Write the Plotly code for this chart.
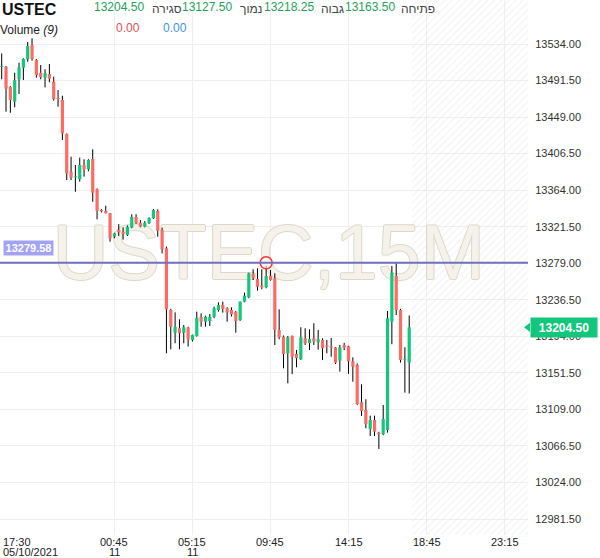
import plotly.graph_objects as go

# ---------------- data (15-minute candles, USTEC) ----------------
opens = [13507.5, 13507.6, 13484.3, 13466.9, 13493.0, 13506.4, 13516.2, 13532.8, 13515.4, 13500.6,
         13494.8, 13499.1, 13490.2, 13471.2, 13468.9, 13429.3, 13385.5, 13379.0, 13376.6, 13393.3,
         13388.3, 13400.3, 13365.0, 13341.0, 13339.8, 13337.1, 13309.9, 13317.7, 13315.7, 13311.9,
         13320.8, 13332.8, 13326.2, 13321.5, 13325.5, 13331.3, 13339.8, 13317.7, 13296.4, 13224.6,
         13198.2, 13203.4, 13198.2, 13204.1, 13189.8, 13194.4, 13216.5, 13211.0, 13211.8, 13216.8,
         13224.6, 13230.5, 13226.6, 13224.6, 13222.3, 13213.0, 13234.3, 13239.4, 13266.5, 13260.7,
         13252.9, 13251.0, 13264.5, 13261.5, 13201.4, 13193.6, 13174.3, 13194.4, 13173.5, 13167.3,
         13191.7, 13186.0, 13191.7, 13187.0, 13189.8, 13183.5, 13182.4, 13181.0, 13165.7, 13184.0,
         13182.4, 13164.8, 13160.7, 13117.3, 13108.3, 13086.2, 13096.7, 13081.9, 13080.1, 13085.0,
         13211.0, 13264.2, 13224.6, 13167.0, 13163.5]
highs = [13523.0, 13508.5, 13485.0, 13500.6, 13512.3, 13517.4, 13536.3, 13540.6, 13516.6, 13509.6,
         13504.6, 13510.7, 13496.0, 13480.5, 13473.9, 13430.0, 13402.9, 13393.3, 13401.8, 13399.9,
         13400.0, 13411.5, 13366.0, 13342.0, 13345.9, 13337.5, 13314.5, 13324.6, 13320.8, 13323.0,
         13335.9, 13336.0, 13329.3, 13328.0, 13332.5, 13342.1, 13341.7, 13320.4, 13298.3, 13226.0,
         13221.9, 13213.8, 13207.2, 13205.2, 13196.0, 13222.7, 13220.7, 13218.0, 13220.0, 13228.5,
         13233.6, 13234.3, 13227.8, 13227.8, 13223.5, 13234.5, 13244.8, 13268.0, 13272.0, 13273.1,
         13272.0, 13276.0, 13271.2, 13267.3, 13225.4, 13195.0, 13194.4, 13195.0, 13178.1, 13204.5,
         13203.4, 13202.2, 13209.2, 13201.4, 13191.7, 13189.8, 13192.0, 13181.5, 13184.0, 13186.4,
         13183.0, 13169.6, 13162.5, 13138.2, 13120.8, 13101.7, 13101.7, 13083.0, 13114.2, 13223.5,
         13275.8, 13279.0, 13226.0, 13181.3, 13218.25]
lows = [13493.0, 13455.3, 13454.0, 13460.4, 13475.8, 13492.1, 13513.4, 13514.6, 13494.8, 13493.0,
        13483.6, 13489.5, 13468.1, 13461.1, 13422.4, 13375.8, 13375.8, 13362.2, 13373.9, 13379.7,
        13386.0, 13350.6, 13330.1, 13338.0, 13337.0, 13304.1, 13308.0, 13310.7, 13306.5, 13310.7,
        13319.7, 13324.7, 13320.8, 13320.8, 13324.7, 13330.5, 13309.9, 13290.4, 13174.3, 13178.9,
        13185.9, 13178.9, 13185.9, 13182.1, 13188.0, 13193.6, 13205.2, 13205.2, 13206.0, 13215.0,
        13222.7, 13221.5, 13211.0, 13217.0, 13198.2, 13212.0, 13233.6, 13238.3, 13259.5, 13247.1,
        13248.7, 13249.9, 13258.7, 13183.9, 13190.6, 13156.8, 13139.4, 13150.0, 13158.0, 13166.5,
        13183.9, 13178.1, 13183.9, 13178.5, 13166.5, 13174.3, 13170.3, 13161.8, 13152.9, 13178.1,
        13150.2, 13141.2, 13114.0, 13101.5, 13087.0, 13078.1, 13078.0, 13062.9, 13079.0, 13082.0,
        13184.8, 13218.8, 13163.5, 13128.5, 13127.5]
closes = [13508.5, 13482.0, 13468.9, 13492.1, 13506.9, 13516.6, 13531.7, 13516.6, 13497.9, 13495.3,
          13499.9, 13493.6, 13470.0, 13470.0, 13430.1, 13383.6, 13378.5, 13380.0, 13393.3, 13388.3,
          13399.1, 13361.1, 13339.8, 13339.5, 13337.1, 13308.0, 13313.8, 13315.0, 13312.7, 13321.5,
          13332.8, 13325.5, 13321.5, 13326.2, 13331.6, 13340.9, 13316.9, 13295.2, 13225.4, 13205.2,
          13205.2, 13197.5, 13204.5, 13190.6, 13195.6, 13215.6, 13211.0, 13216.8, 13216.8, 13226.6,
          13230.5, 13225.8, 13222.0, 13219.6, 13211.8, 13234.3, 13241.3, 13267.3, 13262.2, 13251.7,
          13251.0, 13264.2, 13259.5, 13201.4, 13192.9, 13173.5, 13192.9, 13170.3, 13168.5, 13192.9,
          13185.9, 13191.0, 13188.0, 13190.6, 13180.1, 13182.0, 13181.0, 13163.3, 13181.2, 13181.0,
          13164.8, 13158.7, 13115.3, 13107.2, 13092.1, 13096.7, 13083.1, 13080.1, 13097.9, 13215.0,
          13268.0, 13224.6, 13166.5, 13167.5, 13204.5]

tick_idx = [0, 26, 44, 62, 80, 98, 116]
tick_time = ["17:30", "00:45", "05:15", "09:45", "14:15", "18:45", "23:15"]
tick_date = ["05/10/2021", "11", "11", "", "", "", ""]

y_ticks = [12981.5 + 42.5 * k for k in range(14)]
y_ticktext = ["%.2f" % v for v in y_ticks]

alert_level = 13279.58
alert_idx = 61

header_labels = ["סגירה", "נמוך", "גבוה", "פתיחה"]
header_values = [closes[-1], lows[-1], highs[-1], opens[-1]]
volume_values = ["0.00", "0.00"]
title = "USTEC"
watermark = "USTEC,15M"

# ---------------- styling ----------------
UP = "#12c77c"
DOWN = "#fd6b64"
GRID = "#efefef"
FONT = "Liberation Sans, Arial, sans-serif"

n = len(opens)
idx = list(range(n))
x_range = [-0.39, 121.4]
y_range = [12962.9, 13585.2]

fig = go.Figure()

# hatched "future" zone
hx0 = n - 1 + 0.62
fig.add_trace(go.Scatter(
    x=[hx0, x_range[1], x_range[1], hx0, hx0],
    y=[y_range[0], y_range[0], y_range[1], y_range[1], y_range[0]],
    mode="lines", fill="toself", line=dict(width=0),
    fillcolor="rgba(0,0,0,0)",
    fillpattern=dict(shape="/", fgcolor="#e2e2e2", bgcolor="rgba(0,0,0,0)", size=5, solidity=0.2),
    hoverinfo="skip"))

# watermark (below the candles)
fig.add_trace(go.Scatter(
    x=[x_range[0] + 0.509 * (x_range[1] - x_range[0])],
    y=[y_range[0] + 0.515 * (y_range[1] - y_range[0])],
    mode="text", text=[watermark], textposition="middle center",
    textfont=dict(size=77, color="#f4f2eb", family=FONT,
                  shadow="1px 0 0 #dcd7c7, -1px 0 0 #dcd7c7, 0 1px 0 #dcd7c7, 0 -1px 0 #dcd7c7"),
    hoverinfo="skip"))

# wicks
wx, wy = [], []
for i in idx:
    wx += [i, i, None]
    wy += [lows[i], highs[i], None]
fig.add_trace(go.Scatter(x=wx, y=wy, mode="lines", line=dict(color="#000000", width=1),
                         hoverinfo="skip"))

# bodies (thick vertical segments, one trace per colour)
for want_up, col in [(True, UP), (False, DOWN)]:
    bx, by = [], []
    for i, (o, c) in enumerate(zip(opens, closes)):
        if (c >= o) != want_up:
            continue
        lo, hi = min(o, c), max(o, c)
        if hi - lo < 1.0:
            mid = (hi + lo) / 2
            lo, hi = mid - 0.5, mid + 0.5
        bx += [i, i, None]
        by += [lo, hi, None]
    fig.add_trace(go.Scatter(x=bx, y=by, mode="lines", line=dict(color=col, width=3.2),
                             hoverinfo="skip"))

# alert marker
fig.add_trace(go.Scatter(x=[alert_idx], y=[alert_level], mode="markers",
                         marker=dict(symbol="circle", size=12, color="rgba(255,255,255,0.55)",
                                     line=dict(color="#f03a3a", width=1.6)),
                         hoverinfo="skip"))

# current price arrow notch
fig.add_trace(go.Scatter(x=[x_range[1]], y=[closes[-1]], mode="markers", cliponaxis=False,
                         marker=dict(symbol="triangle-left", size=8, color=UP), hoverinfo="skip"))

annotations = []
# x axis labels
for i, (t, d) in enumerate(zip(tick_time, tick_date)):
    first = i == 0
    anchor = "left" if first else "center"
    xs = -1 if first else 0
    annotations.append(dict(x=tick_idx[i], xref="x", y=0, yref="paper", yshift=-7, xshift=xs,
                            text=t, showarrow=False, xanchor=anchor, yanchor="middle",
                            font=dict(size=11, color="#222", family=FONT)))
    if d:
        annotations.append(dict(x=tick_idx[i], xref="x", y=0, yref="paper", yshift=-17, xshift=xs,
                                text=d, showarrow=False, xanchor=anchor, yanchor="middle",
                                font=dict(size=11, color="#222", family=FONT)))

# header
annotations.append(dict(x=0, xref="paper", y=1, yref="paper", xshift=0, yshift=-9, text="<b>" + title + "</b>",
                        showarrow=False, xanchor="left", yanchor="middle",
                        font=dict(size=16, color="#111", family=FONT)))
val_px = [92, 180, 262, 343]
lab_px = [150, 238, 319, 399]
for v, l, vx, lx in zip(header_values, header_labels, val_px, lab_px):
    annotations.append(dict(x=0, xref="paper", y=1, yref="paper", xshift=vx, yshift=-7, text="%.2f" % v,
                            showarrow=False, xanchor="left", yanchor="middle",
                            font=dict(size=12, color="#1f9f5a", family=FONT)))
    annotations.append(dict(x=0, xref="paper", y=1, yref="paper", xshift=lx, yshift=-9, text=l,
                            showarrow=False, xanchor="left", yanchor="middle",
                            font=dict(size=12, color="#444", family=FONT)))
annotations.append(dict(x=0, xref="paper", y=1, yref="paper", xshift=-2, yshift=-30, text="Volume <i>(9)</i>",
                        showarrow=False, xanchor="left", yanchor="middle",
                        font=dict(size=12, color="#222", family=FONT)))
for v, vx, col in zip(volume_values, [114, 161], ["#e05252", "#4a8fe7"]):
    annotations.append(dict(x=0, xref="paper", y=1, yref="paper", xshift=vx, yshift=-28, text=v,
                            showarrow=False, xanchor="left", yanchor="middle",
                            font=dict(size=12, color=col, family=FONT)))

# alert level label
annotations.append(dict(x=0, xref="paper", y=alert_level, yref="y", xshift=3, yshift=15,
                        text="<b>%.2f</b>" % alert_level, showarrow=False, xanchor="left", yanchor="middle",
                        bgcolor="#a3a3f6", borderpad=1, width=47, height=12,
                        font=dict(size=11, color="white", family=FONT)))
# current price label
annotations.append(dict(x=1, xref="paper", y=closes[-1], yref="y", xshift=2, yshift=0,
                        text="<b>%.2f</b>" % closes[-1], showarrow=False, xanchor="left", yanchor="middle",
                        bgcolor=UP, borderpad=2, width=62, height=15,
                        font=dict(size=12, color="white", family=FONT)))

fig.update_layout(
    width=600, height=558,
    margin=dict(l=0, r=72, t=0, b=23, autoexpand=False),
    paper_bgcolor="white", plot_bgcolor="white",
    showlegend=False,
    font=dict(family=FONT),
    shapes=[dict(type="line", xref="paper", x0=0, x1=1, yref="y", y0=alert_level, y1=alert_level,
                 line=dict(color="#7070c0", width=2))],
    annotations=annotations,
    xaxis=dict(range=x_range, tickvals=tick_idx[1:], showticklabels=False, showgrid=True,
               gridcolor=GRID, zeroline=False, showline=False, ticks="", automargin=False),
    yaxis=dict(range=y_range, side="right", tickvals=y_ticks, ticktext=y_ticktext, showgrid=True,
               gridcolor=GRID, zeroline=False, showline=False, ticks="outside", ticklen=4,
               tickcolor="rgba(0,0,0,0)", automargin=False,
               tickfont=dict(size=11, color="#333", family=FONT)),
)

fig.write_html("out.html", config={"displayModeBar": False},
               post_script="document.body.style.margin='0';")
